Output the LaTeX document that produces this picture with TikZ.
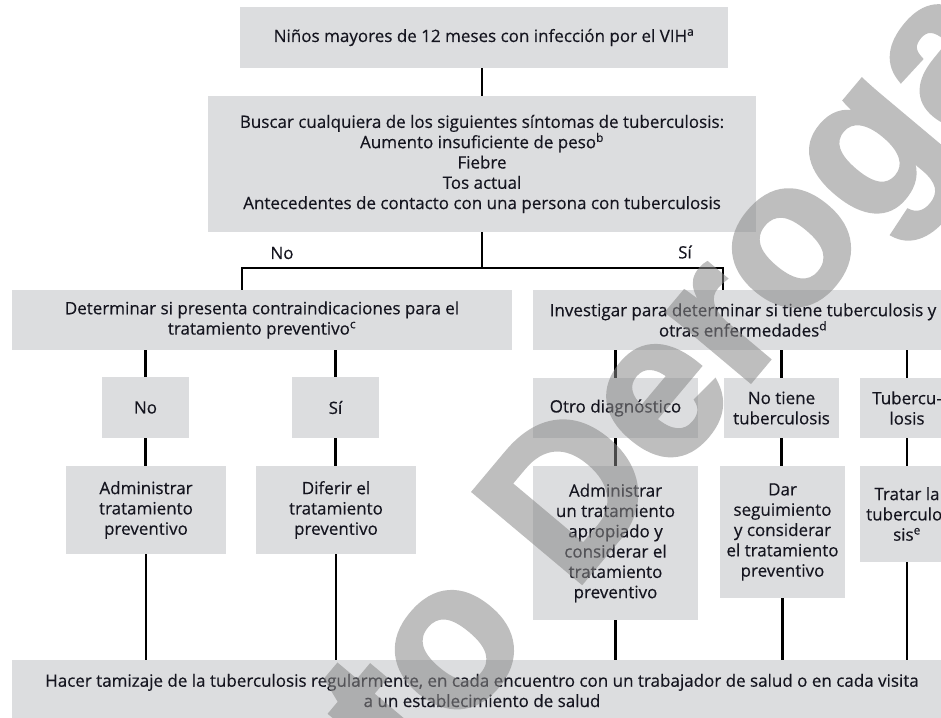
\documentclass[tikz,border=0pt]{standalone}
\usepackage{fontspec}
\setmainfont{Open Sans}[FakeBold=0.4]
\newfontfamily\wmfont{Liberation Sans}[BoldFeatures={FakeBold=2}]
\usetikzlibrary{calc}
\definecolor{boxgray}{HTML}{DCDDDF}
\definecolor{txt}{HTML}{15151F}
\definecolor{wmgray}{HTML}{888888}
\newcommand\mainfs{\fontsize{17}{20.3}\selectfont}
\begin{document}
\begin{tikzpicture}[x=1pt,y=-1pt,
 box/.style={fill=boxgray, inner sep=0pt, align=center, text=txt, font=\mainfs},
 lbl/.style={inner sep=0pt, text=txt, font=\mainfs},
 conn/.style={draw=black, line width=2.2pt},
 wm/.style={text=wmgray, inner sep=0pt, font=\wmfont\bfseries\fontsize{205}{210}\selectfont, rotate=50}]
\useasboundingbox (0,0) rectangle (941,717);
\clip (0,0) rectangle (941,717);

\node[box, minimum width=488pt, minimum height=61pt] (top) at (484,37.5) {Niños mayores de 12 meses con infección por el VIH\textsuperscript{a}};
\node[box, minimum width=548pt, minimum height=136pt] (sym) at (482,164) {Buscar cualquiera de los siguientes síntomas de tuberculosis:\\Aumento insuficiente de peso\textsuperscript{b}\\Fiebre\\Tos actual\\Antecedentes de contacto con una persona con tuberculosis};
\node[box, minimum width=500pt, minimum height=60pt] (L1) at (262,320) {Determinar si presenta contraindicaciones para el\\tratamiento preventivo\textsuperscript{c}};
\node[box, minimum width=420pt, minimum height=60pt] (R1) at (743,320) {Investigar para determinar si tiene tuberculosis y\\otras enfermedades\textsuperscript{d}};
\node[box, minimum width=87pt, minimum height=61pt] (no1) at (145.5,407.5) {No};
\node[box, minimum width=87pt, minimum height=61pt] (si1) at (335.5,407.5) {Sí};
\node[box, minimum width=165pt, minimum height=60pt] (otro) at (615.5,408) {Otro diagnóstico};
\node[box, minimum width=115pt, minimum height=60pt] (notb) at (781.5,408) {No tiene\\tuberculosis};
\node[box, minimum width=94pt, minimum height=60pt] (tb) at (907,408) {Tubercu-\\losis};
\node[box, minimum width=160pt, minimum height=88pt] (adm1) at (146,510) {Administrar\\tratamiento\\preventivo};
\node[box, minimum width=160pt, minimum height=88pt] (dif) at (336,510) {Diferir el\\tratamiento\\preventivo};
\node[box, minimum width=165pt, minimum height=154pt] (adm2) at (615.5,543) {Administrar\\un tratamiento\\apropiado y\\considerar el\\tratamiento\\preventivo};
\node[box, minimum width=125pt, minimum height=132pt] (dar) at (782.5,532) {Dar\\seguimiento\\y considerar\\el tratamiento\\preventivo};
\node[box, minimum width=94pt, minimum height=96pt] (trat) at (907,514) {Tratar la\\tuberculo-\\sis\textsuperscript{e}};
\node[box, minimum width=940pt, minimum height=61pt] (bot) at (482,690.5) {Hacer tamizaje de la tuberculosis regularmente, en cada encuentro con un trabajador de salud o en cada visita\\a un establecimiento de salud};

\node[lbl] (lno) at (282,253) {No};
\node[lbl] (lsi) at (685,252) {Sí};

\coordinate (jL) at (242,268);
\coordinate (jR) at (723,268);
\draw[conn] (top.south -| sym.north) -- (sym.north);
\draw[conn] (sym.south) -- (sym.south |- jL);
\draw[conn, line join=miter] (jL |- L1.north) -- (jL) -- (jR) -- (jR |- R1.north);

\draw[conn] (no1.north |- L1.south) -- (no1.north);
\draw[conn] (si1.north |- L1.south) -- (si1.north);
\draw[conn] (otro.north |- R1.south) -- (otro.north);
\draw[conn] (notb.north |- R1.south) -- (notb.north);
\draw[conn] (tb.north |- R1.south) -- (tb.north);

\draw[conn] (no1.south) -- (no1.south |- adm1.north);
\draw[conn] (si1.south) -- (si1.south |- dif.north);
\draw[conn] (otro.south) -- (otro.south |- adm2.north);
\draw[conn] (notb.south) -- (notb.south |- dar.north);
\draw[conn] (tb.south) -- (tb.south |- trat.north);

\draw[conn] (adm1.south) -- (adm1.south |- bot.north);
\draw[conn] (dif.south) -- (dif.south |- bot.north);
\draw[conn] (adm2.south) -- (adm2.south |- bot.north);
\draw[conn] (dar.south) -- (dar.south |- bot.north);
\draw[conn] (trat.south) -- (trat.south |- bot.north);

\coordinate (wmP) at (573,593);
\begin{scope}[transparency group, opacity=0.55]
\node[wm, anchor=base west] (wm2) at (wmP) {Derogado};
\node[wm, anchor=base east] (wm1) at (wmP) {Documento\kern0.278em};
\end{scope}
\end{tikzpicture}
\end{document}
